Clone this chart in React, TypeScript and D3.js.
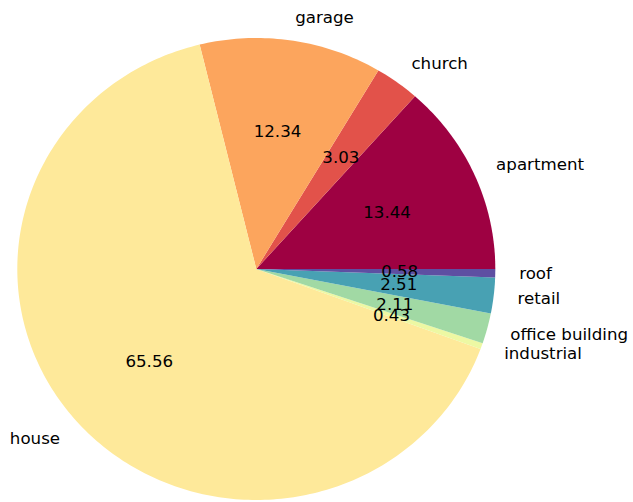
import React from "react";
import * as d3 from "d3";

const categories = ["apartment", "church", "garage", "house", "industrial", "office building", "retail", "roof"];
const values = [13.44, 3.03, 12.34, 65.56, 0.43, 2.11, 2.51, 0.58];

const spectralStops = ["#9e0142", "#d53e4f", "#f46d43", "#fdae61", "#fee08b", "#ffffbf", "#e6f598", "#abdda4", "#66c2a5", "#3288bd", "#5e4fa2"];

export default function App() {
  const W = 633, H = 502;
  const cx = 256.3, cy = 269, rx = 239, ry = 231;
  const spectral = d3.scaleLinear<string>()
    .domain(spectralStops.map((_, i) => i / (spectralStops.length - 1)))
    .range(spectralStops)
    .interpolate(d3.interpolateRgb);
  const n = categories.length;
  const colors = categories.map((_, i) => spectral(i / (n - 1)));
  const total = d3.sum(values);
  // angles in math convention (radians, counterclockwise from +x)
  let acc = 0;
  const slices = values.map((v, i) => {
    const a0 = (acc / total) * 2 * Math.PI;
    acc += v;
    const a1 = (acc / total) * 2 * Math.PI;
    return { i, v, a0, a1 };
  });
  const pt = (a: number, f: number) => [cx + f * rx * Math.cos(a), cy - f * ry * Math.sin(a)];
  const wedgePath = (a0: number, a1: number) => {
    const p = d3.path();
    p.moveTo(cx, cy);
    const steps = Math.max(2, Math.ceil(((a1 - a0) / (2 * Math.PI)) * 360));
    for (let k = 0; k <= steps; k++) {
      const a = a0 + ((a1 - a0) * k) / steps;
      const [x, y] = pt(a, 1);
      p.lineTo(x, y);
    }
    p.closePath();
    return p.toString();
  };
  const font = "DejaVu Sans, sans-serif";
  const fs = 16.67;
  return (
    <svg width={W} height={H} style={{ position: "absolute", left: 0, top: 0 }}>
      <rect width={W} height={H} fill="#ffffff" />
      {slices.map((s) => (
        <path key={"w" + s.i} d={wedgePath(s.a0, s.a1)} fill={colors[s.i]} />
      ))}
      {slices.map((s) => {
        const m = (s.a0 + s.a1) / 2;
        const [lx, ly] = pt(m, 1.1);
        const anchor = Math.cos(m) > 0 ? "start" : "end";
        return (
          <text key={"l" + s.i} x={lx} y={ly} textAnchor={anchor} dominantBaseline="central"
            fontFamily={font} fontSize={fs} fill="#000">{categories[s.i]}</text>
        );
      })}
      {slices.map((s) => {
        const m = (s.a0 + s.a1) / 2;
        const [px, py] = pt(m, 0.6);
        return (
          <text key={"p" + s.i} x={px} y={py} textAnchor="middle" dominantBaseline="central"
            fontFamily={font} fontSize={fs} fill="#000">{s.v.toFixed(2)}</text>
        );
      })}
    </svg>
  );
}
